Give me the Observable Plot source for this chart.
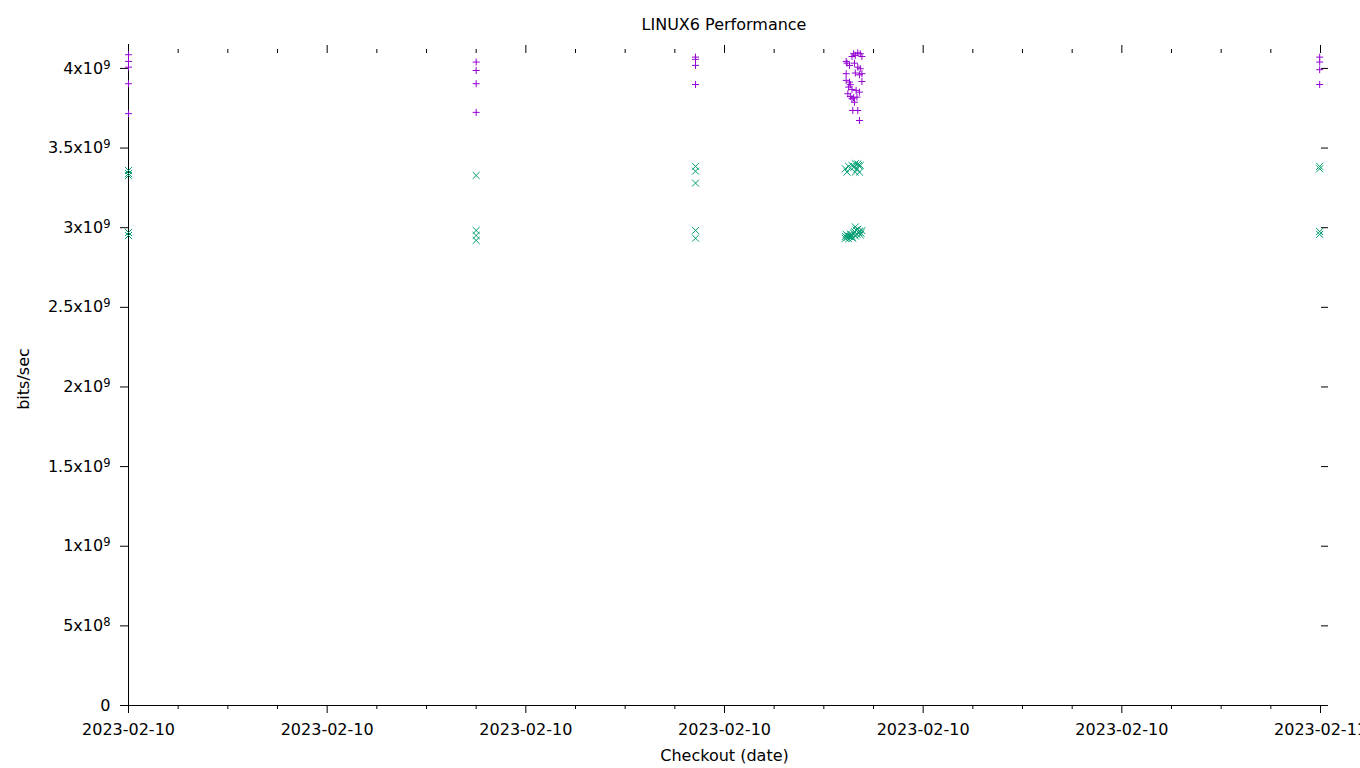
<!DOCTYPE html>
<html><head><meta charset="utf-8">
<script src="https://cdn.jsdelivr.net/npm/d3@7"></script>
<script src="https://cdn.jsdelivr.net/npm/@observablehq/plot@0.6"></script>
<style>
html,body{margin:0;padding:0;background:#fff;overflow:hidden;}
#wrap{position:relative;width:1360px;height:768px;font-family:"DejaVu Sans",sans-serif;}
#title{position:absolute;left:128px;width:1192px;top:15px;text-align:center;font-size:16px;color:#000;white-space:nowrap;}
</style></head><body>
<div id="wrap"><div id="title">LINUX6 Performance</div><div id="chart"></div></div>
<script>
const day = "2023-02-10";
const xDomain = ["2023-02-10T00:00:00Z", "2023-02-11T00:00:00Z"];
const yMax = 4.1e9;
const yTicks = [0, 5e8, 1e9, 1.5e9, 2e9, 2.5e9, 3e9, 3.5e9, 4e9];
const yTickLabels = ["0", "5x10^8", "1x10^9", "1.5x10^9", "2x10^9", "2.5x10^9", "3x10^9", "3.5x10^9", "4x10^9"];

// series 1 (purple +)
const plusTimes = [
  "00:00","00:00","00:00","00:00","00:00",
  "07:00","07:00","07:00","07:00",
  "11:25","11:25","11:25","11:25",
  "14:36","14:41","14:44","14:38","14:34","14:46","14:27","14:28","14:31","14:37",
  "14:41","14:44","14:38","14:43","14:46","14:27","14:27","14:31","14:32","14:46",
  "14:30","14:34","14:39","14:43","14:29","14:32","14:36","14:34","14:40","14:37",
  "14:35","14:41","14:43",
  "23:59","23:59","23:59","23:59"
];
const plusValues = [
  4.086e9, 4.044e9, 4.008e9, 3.904e9, 3.716e9,
  4.040e9, 3.987e9, 3.904e9, 3.724e9,
  4.071e9, 4.057e9, 4.019e9, 3.899e9,
  4.092e9, 4.098e9, 4.092e9, 4.082e9, 4.075e9, 4.075e9, 4.044e9, 4.033e9, 4.019e9, 4.033e9,
  4.008e9, 3.998e9, 3.971e9, 3.960e9, 3.967e9, 3.967e9, 3.925e9, 3.914e9, 3.898e9, 3.918e9,
  3.883e9, 3.868e9, 3.862e9, 3.851e9, 3.841e9, 3.824e9, 3.816e9, 3.810e9, 3.820e9, 3.788e9,
  3.736e9, 3.736e9, 3.673e9,
  4.071e9, 4.040e9, 3.992e9, 3.899e9
];

// series 2 (green x)
const crossTimes = [
  "00:00","00:00","00:00","00:00","00:00",
  "07:00","07:00","07:00","07:00",
  "11:25","11:25","11:25","11:25","11:25",
  "14:26","14:28","14:30","14:34","14:36","14:38","14:38","14:40","14:41","14:42","14:43","14:44",
  "14:26","14:26","14:27","14:28","14:29","14:30","14:31","14:32","14:33","14:34","14:35","14:36",
  "14:37","14:38","14:38","14:39","14:40","14:41","14:42","14:43","14:44","14:45","14:46",
  "23:59","23:59","23:59","23:59"
];
const crossValues = [
  3.359e9, 3.340e9, 3.328e9, 2.970e9, 2.951e9,
  3.328e9, 2.983e9, 2.951e9, 2.920e9,
  3.385e9, 3.355e9, 3.280e9, 2.983e9, 2.934e9,
  3.370e9, 3.349e9, 3.385e9, 3.391e9, 3.380e9, 3.402e9, 3.349e9, 3.370e9, 3.400e9, 3.391e9, 3.349e9, 3.391e9,
  2.945e9, 2.933e9, 2.958e9, 2.938e9, 2.950e9, 2.930e9, 2.945e9, 2.960e9, 2.940e9, 2.952e9, 2.935e9, 2.965e9,
  2.975e9, 3.005e9, 2.948e9, 2.985e9, 2.958e9, 2.990e9, 2.970e9, 2.978e9, 2.955e9, 2.965e9, 2.982e9,
  3.385e9, 3.370e9, 2.976e9, 2.958e9
];

const toDate = t => new Date(`${day}T${t}:00Z`);
const plusData = plusTimes.map((t, i) => ({time: toDate(t), value: plusValues[i]}));
const crossData = crossTimes.map((t, i) => ({time: toDate(t), value: crossValues[i]}));

const x0 = new Date(xDomain[0]), x1 = new Date(xDomain[1]);
const xMajor = d3.utcHour.every(4).range(x0, new Date(+x1 + 1));
const xMinor = d3.utcHour.every(1).range(x0, new Date(+x1 + 1)).filter(d => d.getUTCHours() % 4 !== 0);
const blank = () => "";

const chart = Plot.plot({
  width: 1360, height: 768,
  marginLeft: 128, marginRight: 40, marginTop: 52, marginBottom: 63,
  style: {fontFamily: '"DejaVu Sans", sans-serif', fontSize: "16px", background: "white", color: "black", overflow: "visible"},
  x: {type: "utc", domain: [x0, x1]},
  y: {domain: [0, yMax]},
  marks: [
    Plot.axisX({anchor: "bottom", ticks: xMajor, tickSize: 8, tickPadding: 10, strokeWidth: 1,
      tickFormat: d3.utcFormat("%Y-%m-%d"), label: "Checkout (date)", labelAnchor: "center", labelArrow: "none", labelOffset: 55}),
    Plot.axisX({anchor: "bottom", ticks: xMinor, tickSize: 4, strokeWidth: 1, tickFormat: blank, label: null}),
    Plot.axisX({anchor: "top", ticks: xMajor, tickSize: 8, strokeWidth: 1, tickFormat: blank, label: null}),
    Plot.axisX({anchor: "top", ticks: xMinor, tickSize: 4, strokeWidth: 1, tickFormat: blank, label: null}),
    Plot.axisY({anchor: "left", ticks: yTicks, tickSize: 8, tickPadding: 10, strokeWidth: 1,
      tickFormat: d => yTickLabels[yTicks.indexOf(d)], label: "bits/sec", labelAnchor: "center", labelArrow: "none", labelOffset: 111}),
    Plot.axisY({anchor: "right", ticks: yTicks, tickSize: 7, strokeWidth: 1, tickFormat: blank, label: null}),
    Plot.ruleY([0], {stroke: "black", strokeWidth: 1, insetRight: -7}),
    Plot.ruleX([x0], {stroke: "black", strokeWidth: 1, insetTop: -8}),
    Plot.dot(plusData, {x: "time", y: "value", symbol: "plus", r: 2.39, stroke: "#9400d3", strokeWidth: 1}),
    Plot.dot(crossData, {x: "time", y: "value", symbol: "times", r: 3.27, stroke: "#009e73", strokeWidth: 1})
  ]
});

// render superscript exponents in y tick labels
const NS = "http://www.w3.org/2000/svg";
chart.querySelectorAll('[aria-label="y-axis tick label"] text').forEach(t => {
  const s = t.textContent;
  const m = s.match(/^(.*)\^(\d+)$/);
  if (!m) return;
  t.textContent = "";
  const a = document.createElementNS(NS, "tspan");
  a.textContent = m[1];
  const b = document.createElementNS(NS, "tspan");
  b.textContent = m[2];
  b.setAttribute("font-size", "11.5px");
  b.setAttribute("dy", "-5");
  t.appendChild(a); t.appendChild(b);
});
document.getElementById("chart").appendChild(chart);
</script>
</body></html>
